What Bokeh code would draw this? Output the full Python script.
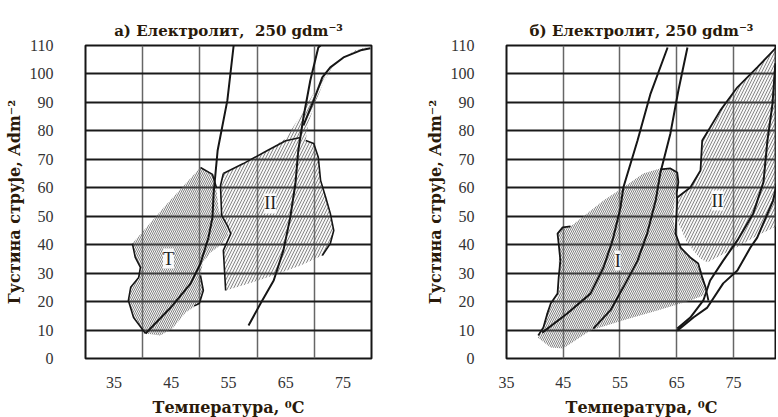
from bokeh.plotting import figure
from bokeh.models import FixedTicker, Range1d, Label
from bokeh.layouts import row
from bokeh.embed import file_html
from bokeh.resources import INLINE

# ---------------- data ----------------
x_tick_labels = [35, 45, 55, 65, 75]
y_tick_labels = [0, 10, 20, 30, 40, 50, 60, 70, 80, 90, 100, 110]
left_x_gridlines = [40, 50, 60, 70]
right_x_gridlines = [45, 55, 65, 75]

# Panel a) region T (hatched)
a_T_x = [50.1, 52.2, 52.9, 53.3, 54.7, 55.0, 54.0, 51.9, 50.5, 50.1, 50.6, 49.9, 47.5, 45.2, 43.1,
         40.5, 38.4, 37.5, 37.9, 39.3, 39.6, 38.7, 38.2, 44.0]
a_T_y = [67.1, 64.7, 59.1, 52.0, 46.4, 43.6, 40.4, 37.3, 33.7, 29.2, 23.9, 19.3, 16.2, 10.5, 8.1,
         8.8, 14.4, 20.4, 25.0, 28.5, 32.0, 35.5, 40.4, 53.8]
a_T_left_x = [38.2, 38.7, 39.6, 39.3, 37.9, 37.5, 38.4, 40.5]
a_T_left_y = [40.4, 35.5, 32.0, 28.5, 25.0, 20.4, 14.4, 8.8]
a_T_top_x = [50.1, 52.2, 52.9]
a_T_top_y = [67.1, 64.7, 60.0]
a_T_low_x = [50.1, 50.6, 49.9, 49.0]
a_T_low_y = [29.2, 23.9, 19.3, 18.5]

# Panel a) region II (hatched)
a_H_x = [54.5, 54.1, 55.4, 54.8, 53.8, 53.6, 54.1, 57.6, 61.8, 65.0, 67.6, 70.7, 73.7, 77.2, 79.8,
         76.3, 73.4, 71.6, 70.2, 69.0, 68.5, 69.9, 70.7, 71.1, 72.0, 72.8, 73.4, 72.8, 71.4, 67.6,
         62.3, 58.0]
a_H_y = [23.9, 38.0, 43.9, 46.7, 50.3, 60.8, 65.0, 68.5, 73.1, 77.3, 85.4, 96.0, 104.0, 108.3, 109.7,
         107.2, 103.3, 97.0, 90.0, 83.0, 76.6, 75.6, 70.7, 62.6, 56.6, 51.0, 45.0, 40.4, 36.2, 32.7,
         28.8, 26.0]
a_H_left_x = [54.5, 54.1, 55.4, 54.8, 53.8, 53.6, 54.1]
a_H_left_y = [23.9, 38.0, 43.9, 46.7, 50.3, 60.8, 65.0]
a_H_top_x = [54.1, 57.6, 61.8, 65.0, 67.6]
a_H_top_y = [65.0, 68.5, 73.1, 76.5, 77.7]
a_H_right_x = [68.5, 69.9, 70.7, 71.1, 72.0, 72.8, 73.4, 72.8, 71.4]
a_H_right_y = [76.6, 75.6, 70.7, 62.6, 56.6, 51.0, 45.0, 40.4, 36.2]

# Panel a) curves
a_curve1_x = [40.5, 44.9, 48.4, 50.1, 51.5, 52.2, 52.4, 53.1, 54.8, 55.9]
a_curve1_y = [8.8, 17.9, 26.4, 33.4, 42.5, 49.6, 58.0, 73.1, 90.7, 110.0]
a_curve2_x = [58.5, 60.6, 62.9, 64.6, 65.8, 66.7, 67.2, 68.1, 69.3, 70.7, 71.1]
a_curve2_y = [11.6, 19.3, 27.4, 38.0, 49.6, 61.5, 73.1, 84.7, 97.7, 109.3, 110.0]
a_curve3_x = [68.1, 69.9, 71.4, 72.8, 75.1, 78.1, 79.8]
a_curve3_y = [81.9, 90.7, 98.8, 102.3, 105.8, 108.3, 109.0]

# Panel b) region I (hatched)
b_I_x = [46.3, 52.1, 55.6, 59.1, 62.1, 63.9, 65.1, 65.3, 64.8, 64.4, 64.8, 65.7, 67.4, 69.2, 69.7,
         70.1, 69.7, 67.4, 61.6, 55.6, 49.8, 45.0, 42.8, 40.5, 41.3, 42.2, 44.0, 44.5, 44.2, 44.5,
         44.0, 44.9]
b_I_y = [46.4, 55.5, 60.1, 65.0, 66.8, 66.4, 65.4, 62.6, 59.1, 49.6, 43.9, 39.0, 35.5, 32.0, 28.5,
         24.6, 22.1, 20.4, 16.9, 13.4, 9.8, 3.5, 3.9, 7.4, 9.1, 16.9, 21.4, 26.4, 33.4, 40.4,
         44.3, 46.1]
b_I_left_x = [46.3, 44.9, 44.0, 44.2, 44.5, 44.2, 44.0, 42.8, 42.2, 41.5, 40.6]
b_I_left_y = [46.4, 46.1, 43.9, 40.4, 34.4, 28.5, 22.8, 19.3, 15.8, 10.9, 8.1]
b_I_right_x = [62.1, 63.9, 65.1, 65.3, 65.0, 65.1, 64.8, 65.7, 67.4, 68.8, 69.5, 70.1, 70.6]
b_I_right_y = [66.5, 66.8, 65.4, 62.0, 58.0, 55.5, 43.9, 39.0, 35.5, 33.4, 28.5, 25.0, 20.4]

# Panel b) region II (hatched)
b_H_x = [65.1, 67.4, 69.2, 69.5, 70.9, 72.7, 75.7, 79.2, 82.9, 82.9, 79.2, 76.2, 72.7, 70.4, 69.2,
         66.9, 65.3]
b_H_y = [56.6, 60.1, 66.1, 76.6, 81.2, 87.2, 95.3, 102.3, 110.0, 46.7, 43.2, 39.7, 36.2, 33.7, 35.1,
         40.4, 47.5]
b_H_top_x = [65.1, 67.4, 69.2, 69.5, 70.9, 72.7, 75.7, 79.2, 82.9]
b_H_top_y = [56.6, 60.1, 66.1, 76.6, 81.2, 87.2, 95.3, 102.3, 110.0]

# Panel b) curves
b_curve1_x = [41.3, 45.7, 49.8, 52.1, 53.7, 55.1, 55.6, 58.1, 60.4, 63.4]
b_curve1_y = [9.1, 15.8, 22.8, 32.0, 41.5, 53.1, 60.1, 76.6, 93.1, 109.3]
b_curve2_x = [50.3, 53.3, 55.6, 58.1, 59.8, 61.3, 62.1, 63.9, 65.3, 66.9]
b_curve2_y = [10.5, 16.9, 25.0, 34.4, 43.9, 55.5, 65.0, 79.1, 94.2, 109.3]
b_curve3_x = [65.1, 67.4, 69.7, 70.9, 73.2, 75.7, 78.5, 80.3, 81.0, 81.9, 82.4]
b_curve3_y = [10.5, 14.4, 20.4, 27.4, 34.4, 41.5, 51.0, 62.0, 76.6, 89.6, 103.7]
b_curve4_x = [65.1, 68.0, 70.4, 73.2, 75.7, 78.0, 79.2, 82.0, 82.9]
b_curve4_y = [9.8, 14.5, 17.9, 26.4, 30.9, 39.0, 42.5, 55.5, 63.6]

# region labels
a_labels = ["Т", "II"]
a_label_x = [44.5, 62.3]
a_label_y = [35.1, 54.5]
b_labels = ["I", "II"]
b_label_x = [54.6, 72.2]
b_label_y = [34.4, 55.5]

title_a = "а) Електролит,\u00a0 250 gdm⁻³"
title_b = "б) Електролит, 250 gdm⁻³"
x_title = "Температура, ⁰C"
y_title = "Густина струје, Adm⁻²"

SERIF = "DejaVu Serif"
TICKFONT = "Liberation Serif"
INK = "#161616"


def make_fig(title, frame_w, b_left, b_right, x_start, x_end, x_grid):
    p = figure(frame_width=frame_w, frame_height=313,
               x_range=Range1d(x_start, x_end), y_range=Range1d(0, 110),
               output_backend="svg", toolbar_location=None, title=title,
               min_border_left=b_left, min_border_right=b_right, min_border_top=45,
               min_border_bottom=57)
    p.title.align = "center"
    p.title.text_font = SERIF
    p.title.text_font_size = "15px"
    p.title.text_font_style = "bold"
    p.title.text_color = "#2a1a0a"
    p.title.standoff = 12
    p.background_fill_color = "white"
    p.border_fill_color = "white"
    p.outline_line_color = INK
    p.outline_line_width = 2

    p.xaxis.ticker = FixedTicker(ticks=x_tick_labels)
    p.yaxis.ticker = FixedTicker(ticks=y_tick_labels)
    p.xgrid.ticker = FixedTicker(ticks=x_grid)
    p.ygrid.ticker = FixedTicker(ticks=y_tick_labels)
    p.xgrid.grid_line_color = "#666666"
    p.xgrid.grid_line_width = 1.5
    p.ygrid.grid_line_color = "#1a1a1a"
    p.ygrid.grid_line_width = 2
    for ax in (p.xaxis, p.yaxis):
        ax.axis_line_color = None
        ax.major_tick_line_color = None
        ax.minor_tick_line_color = None
        ax.major_label_text_font = TICKFONT
        ax.major_label_text_font_size = "16px"
        ax.major_label_text_color = "#333333"
        ax.axis_label_text_font = SERIF
        ax.axis_label_text_font_size = "16px"
        ax.axis_label_text_font_style = "bold"
        ax.axis_label_text_color = "#2a1a0a"
    p.xaxis.axis_label = x_title
    p.yaxis.axis_label = y_title
    p.xaxis.major_label_standoff = 12
    p.xaxis.axis_label_standoff = 7
    p.yaxis.major_label_standoff = 26
    p.yaxis.axis_label_standoff = 3
    p.yaxis.major_label_orientation = "horizontal"
    return p


def hatched(p, xs, ys, pattern, scale, alpha):
    p.patch(xs, ys, fill_color="#d4d4d4", fill_alpha=alpha, line_color=None,
            hatch_pattern=pattern, hatch_scale=scale, hatch_color="#3a3a3a",
            hatch_alpha=0.6, hatch_weight=1)


def curve(p, xs, ys, w=2.0):
    p.line(xs, ys, line_color=INK, line_width=w)


def labels(p, texts, xs, ys):
    for t, x, y in zip(texts, xs, ys):
        p.add_layout(Label(x=x, y=y, text=t, text_font=TICKFONT, text_font_size="18px",
                           text_color="#222222", text_align="center", text_baseline="middle",
                           background_fill_color="white", background_fill_alpha=0.9))


# ---------------- panel a ----------------
pa = make_fig(title_a, 286, 85, 19, 30, 80, left_x_gridlines)
hatched(pa, a_T_x, a_T_y, "\\", 4, 0.22)
hatched(pa, a_H_x, a_H_y, "/", 6, 0.18)
for xs, ys in [(a_T_left_x, a_T_left_y), (a_T_top_x, a_T_top_y), (a_T_low_x, a_T_low_y),
               (a_H_left_x, a_H_left_y), (a_H_top_x, a_H_top_y), (a_H_right_x, a_H_right_y)]:
    curve(pa, xs, ys, 1.6)
curve(pa, a_curve1_x, a_curve1_y)
curve(pa, a_curve2_x, a_curve2_y)
curve(pa, a_curve3_x, a_curve3_y)
labels(pa, a_labels, a_label_x, a_label_y)

# ---------------- panel b ----------------
pb = make_fig(title_b, 270, 116, 0, 35, 82.6, right_x_gridlines)
hatched(pb, b_I_x, b_I_y, "\\", 4, 0.22)
hatched(pb, b_H_x, b_H_y, "/", 6, 0.18)
for xs, ys in [(b_I_left_x, b_I_left_y), (b_I_right_x, b_I_right_y), (b_H_top_x, b_H_top_y)]:
    curve(pb, xs, ys, 1.8)
curve(pb, b_curve1_x, b_curve1_y)
curve(pb, b_curve2_x, b_curve2_y)
curve(pb, b_curve3_x, b_curve3_y)
curve(pb, b_curve4_x, b_curve4_y)
labels(pb, b_labels, b_label_x, b_label_y)

layout = row(pa, pb, spacing=0)
open("out.html", "w").write(file_html(layout, INLINE))
